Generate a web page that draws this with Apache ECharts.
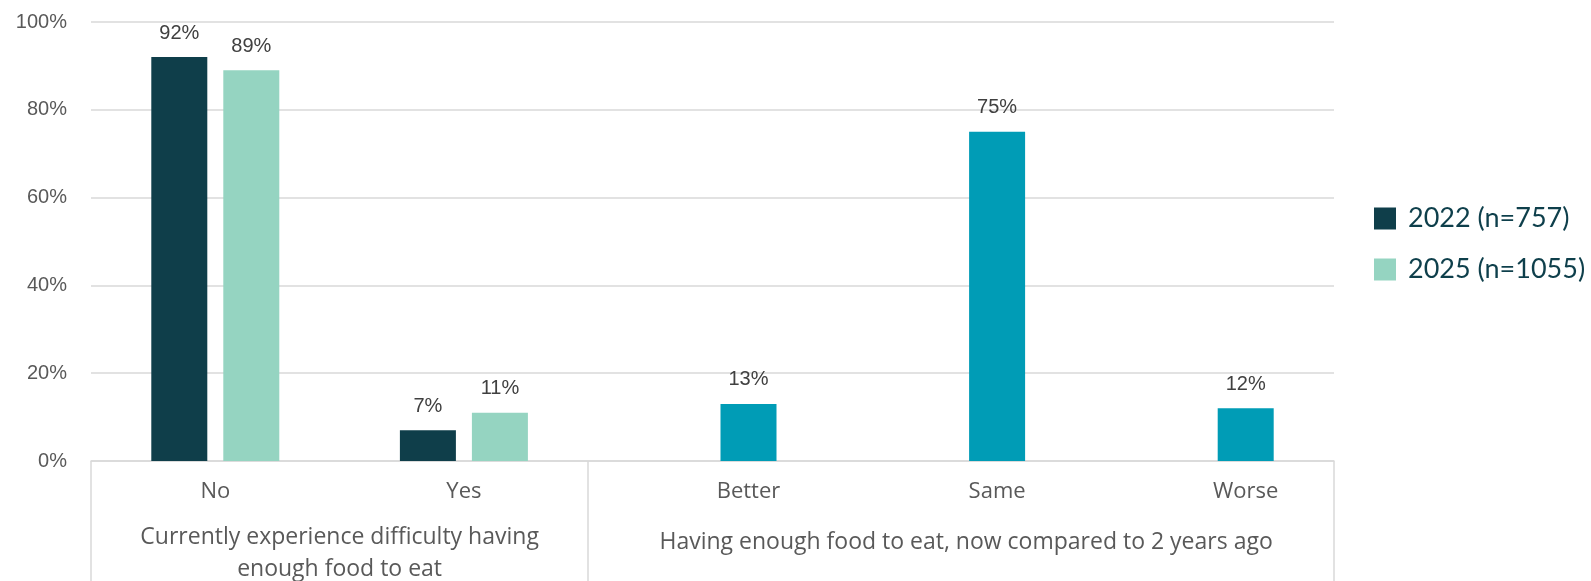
<!DOCTYPE html>
<html>
<head>
<meta charset="utf-8">
<script src="https://cdn.jsdelivr.net/npm/echarts@6/dist/echarts.min.js"></script>
<style>
html,body{margin:0;padding:0;background:#ffffff;}
#chart{width:1591px;height:581px;}
</style>
</head>
<body>
<div id="chart"></div>
<script>
// ---- data ----
const categories = ['No', 'Yes', 'Better', 'Same', 'Worse'];
const groupNames = ['Currently experience difficulty having\nenough food to eat', 'Having enough food to eat, now compared to 2 years ago'];
const groupSpans = [2, 3];
const seriesNames = ['2022 (n=757)', '2025 (n=1055)'];
const values2022 = [92, 7, null, null, null];
const values2025 = [89, 11, 13, 75, 12];
const yTicks = [0, 20, 40, 60, 80, 100];

// ---- style ----
const C_DARK = '#0F3E4A';
const C_MINT = '#95D4C1';
const C_TEAL = '#009CB6';
const GRID = '#D9D9D9';
const BAR_W = 56;
const BAR_GAP_PX = 16;

const chart = echarts.init(document.getElementById('chart'), null, {renderer: 'canvas'});

const bounds = [0];
groupSpans.forEach(s => bounds.push(bounds[bounds.length - 1] + s));
const centres = groupSpans.map((s, i) => bounds[i] + s / 2);
const firstGroupLen = groupSpans[0];

const labelFmt = p => (p.value == null ? '' : p.value + '%');

const option = {
  backgroundColor: '#ffffff',
  animation: false,
  grid: {left: 91, right: 257, top: 22, bottom: 120, containLabel: false},
  legend: {
    data: seriesNames,
    orient: 'vertical',
    left: 1369,
    top: 200,
    icon: 'rect',
    itemWidth: 22,
    itemHeight: 22,
    itemGap: 24,
    textStyle: {fontFamily: 'Lato', fontSize: 27, color: '#0E3F4B', padding: [0, 0, 0, 7]}
  },
  xAxis: [
    {
      type: 'category',
      data: categories,
      position: 'bottom',
      axisLine: {show: true, lineStyle: {color: GRID, width: 1.5}},
      axisTick: {show: false},
      axisLabel: {
        margin: 20,
        formatter: (v, i) => (i >= firstGroupLen ? '{s|' + v + '}' : '{n|' + v + '}'),
        rich: {
          n: {fontFamily: 'Open Sans', fontSize: 22, color: '#595959', lineHeight: 22},
          s: {fontFamily: 'Open Sans', fontSize: 22, color: '#595959', lineHeight: 22, padding: [0, 0, 0, (BAR_W + BAR_GAP_PX)]}
        }
      },
      splitLine: {show: false}
    },
    {
      type: 'value',
      min: 0,
      max: bounds[bounds.length - 1],
      position: 'bottom',
      axisLine: {show: false},
      axisTick: {show: true, customValues: bounds, length: 125, lineStyle: {color: GRID, width: 1.5}},
      axisLabel: {
        show: true,
        customValues: centres,
        margin: 60,
        formatter: v => {
          const idx = centres.findIndex(c => Math.abs(c - v) < 1e-6);
          if (idx < 0) return '';
          const lines = groupNames[idx].split('\n');
          const tok = lines.length > 1 ? 'a' : 'b';
          return lines.map(l => '{' + tok + '|' + l + '}').join('\n');
        },
        rich: {
          a: {fontFamily: 'Open Sans', fontSize: 23, color: '#595959', lineHeight: 32},
          b: {fontFamily: 'Open Sans', fontSize: 23, color: '#595959', lineHeight: 32, padding: [11, 0, 0, 10]}
        }
      },
      splitLine: {show: false}
    }
  ],
  yAxis: {
    type: 'value',
    min: yTicks[0],
    max: yTicks[yTicks.length - 1],
    interval: yTicks[1] - yTicks[0],
    axisLine: {show: false},
    axisTick: {show: false},
    axisLabel: {
      formatter: '{value}%',
      margin: 24,
      fontFamily: 'Liberation Sans',
      fontSize: 20,
      color: '#595959'
    },
    splitLine: {show: true, lineStyle: {color: GRID, width: 1.5}}
  },
  series: [
    {
      name: seriesNames[0],
      type: 'bar',
      xAxisIndex: 0,
      barWidth: BAR_W,
      barGap: (BAR_GAP_PX / BAR_W * 100) + '%',
      itemStyle: {color: C_DARK},
      data: values2022,
      label: {show: true, position: 'top', distance: 14, formatter: labelFmt,
        fontFamily: 'Liberation Sans', fontSize: 20, color: '#404040'}
    },
    {
      name: seriesNames[1],
      type: 'bar',
      xAxisIndex: 0,
      barWidth: BAR_W,
      barGap: (BAR_GAP_PX / BAR_W * 100) + '%',
      itemStyle: {color: C_MINT},
      data: values2025.map((v, i) => ({value: v, itemStyle: {color: i >= firstGroupLen ? C_TEAL : C_MINT}})),
      label: {show: true, position: 'top', distance: 14, formatter: labelFmt,
        fontFamily: 'Liberation Sans', fontSize: 20, color: '#404040'}
    }
  ]
};
chart.setOption(option);
</script>
</body>
</html>
